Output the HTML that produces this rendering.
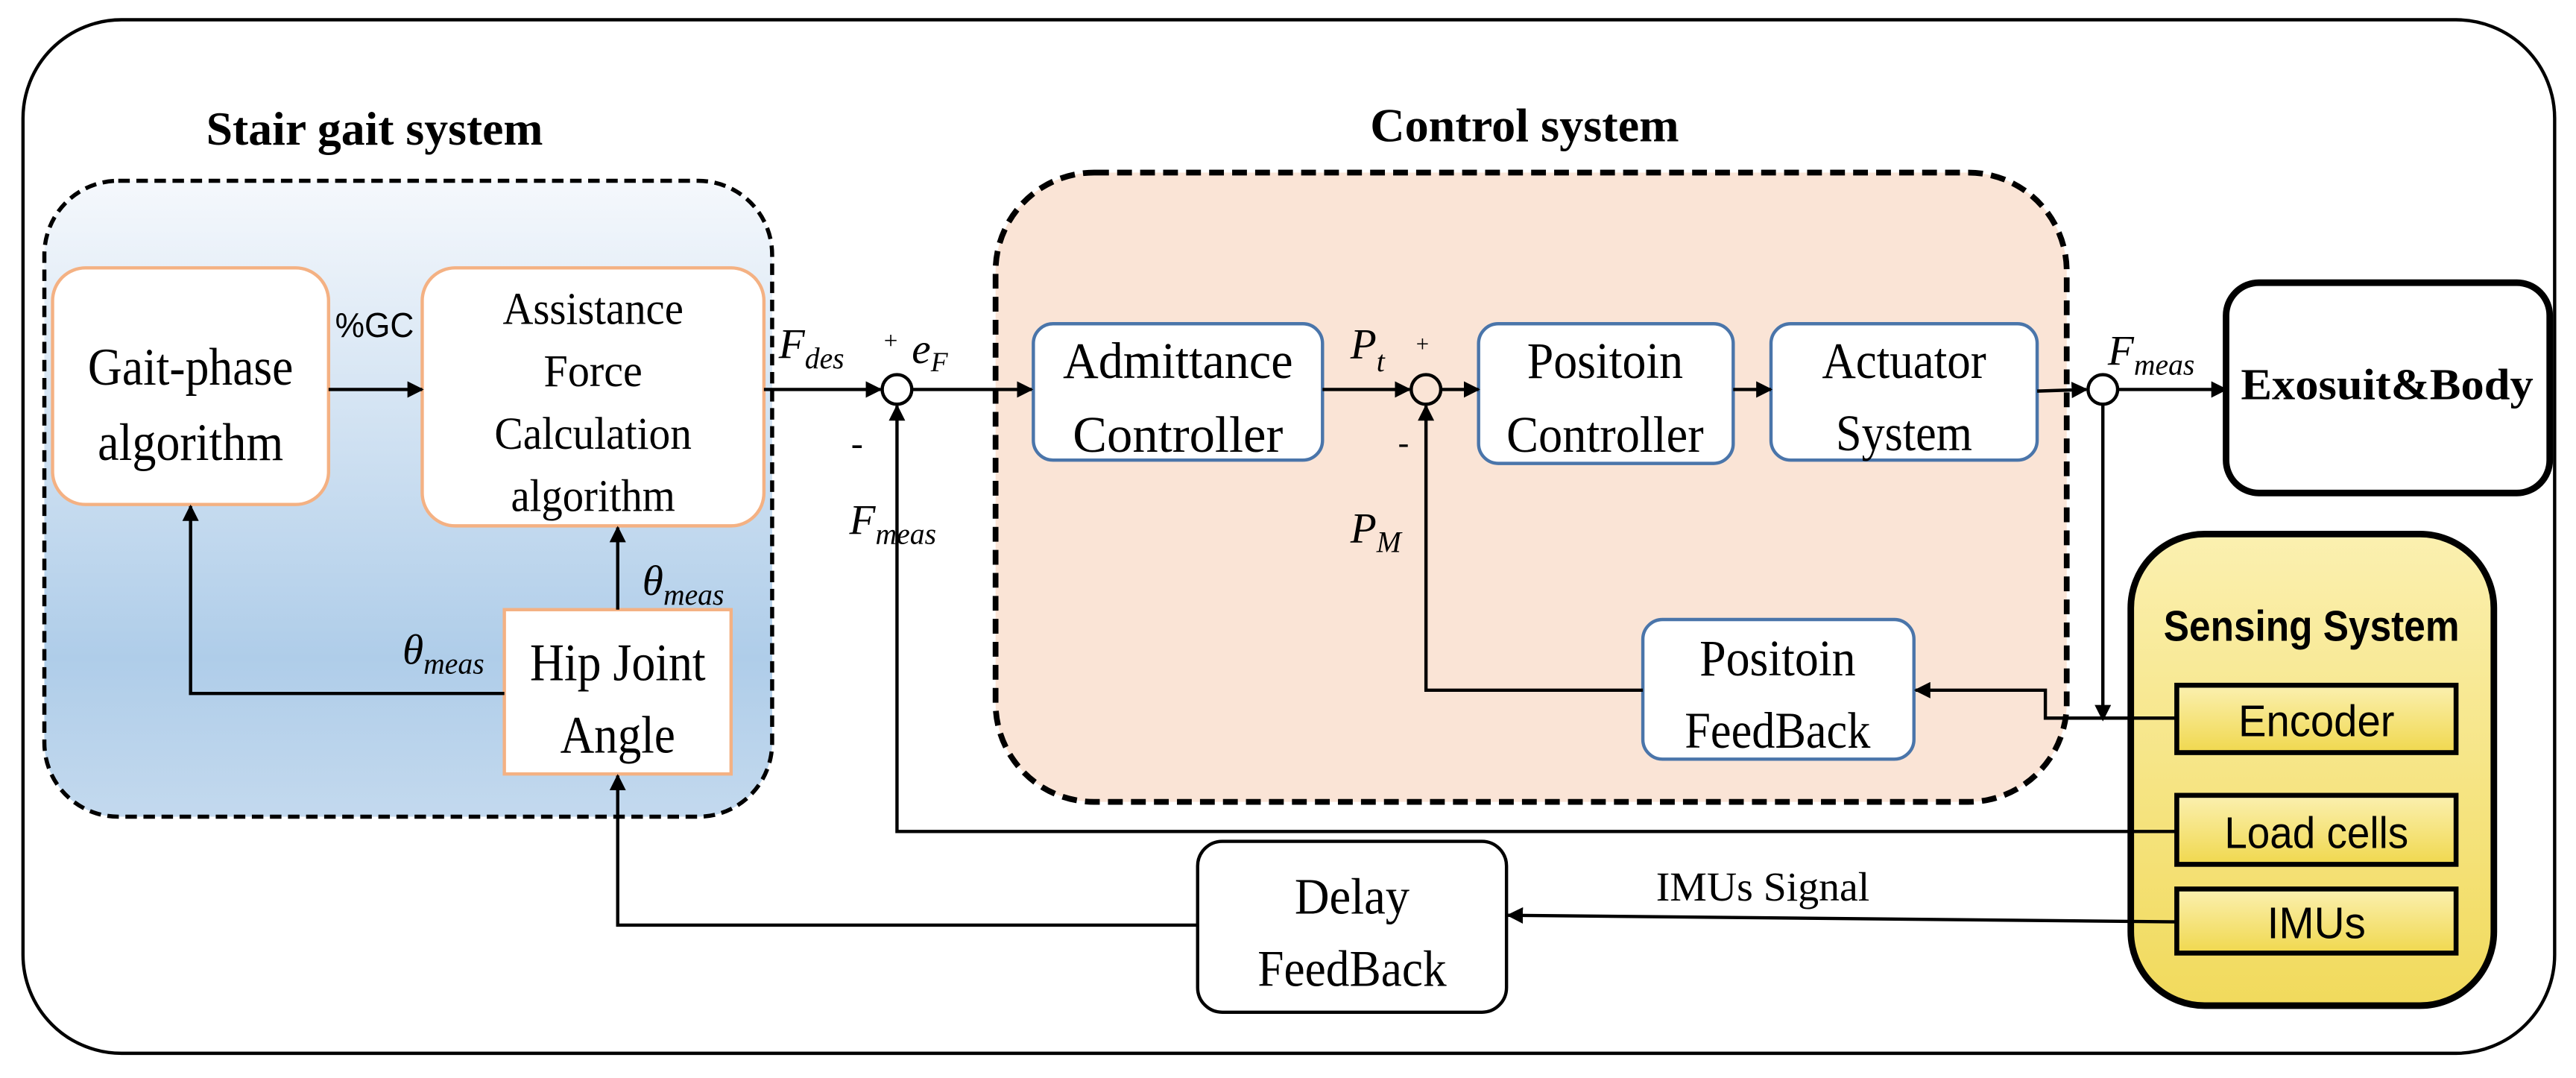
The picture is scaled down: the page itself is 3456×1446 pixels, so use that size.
<!DOCTYPE html>
<html><head><meta charset="utf-8"><style>
html,body{margin:0;padding:0;background:#fff}
svg{display:block}
.s{font-family:"Liberation Serif",serif}
</style></head><body>
<svg width="3456" height="1446" viewBox="0 0 1568 656" xmlns="http://www.w3.org/2000/svg">
<defs>
<marker id="a" viewBox="0 0 10 10" refX="9" refY="5" markerWidth="10" markerHeight="10" markerUnits="userSpaceOnUse" orient="auto"><path d="M0,0 L10,5 L0,10 z" fill="#000"/></marker>
<linearGradient id="gb" x1="0" y1="0" x2="0" y2="1"><stop offset="0" stop-color="#f5f8fc"/><stop offset="0.75" stop-color="#afcde9"/><stop offset="1" stop-color="#c3d9ee"/></linearGradient>
<linearGradient id="gy" x1="0" y1="0" x2="0" y2="1"><stop offset="0" stop-color="#fbf0b0"/><stop offset="1" stop-color="#f1da5c"/></linearGradient>
<linearGradient id="gy2" x1="0" y1="0" x2="0" y2="1"><stop offset="0" stop-color="#fbf0b0"/><stop offset="1" stop-color="#f0d84e"/></linearGradient>
</defs>
<g fill="none" stroke="#000">
<rect x="14" y="12" width="1541" height="629" rx="60" stroke-width="2"/>
<rect x="27" y="110" width="443" height="387" rx="45" fill="url(#gb)" stroke-width="2.5" stroke-dasharray="7,4"/>
<rect x="606" y="105" width="652" height="383" rx="60" fill="#fae4d6" stroke-width="3.5" stroke-dasharray="9,5"/>
<rect x="32" y="163" width="168" height="144" rx="20" fill="#fff" stroke="#f4b183" stroke-width="2"/>
<rect x="257" y="163" width="208" height="157" rx="20" fill="#fff" stroke="#f4b183" stroke-width="2"/>
<rect x="307" y="371" width="138" height="100" fill="#fff" stroke="#f4b183" stroke-width="2"/>
<rect x="629" y="197" width="176" height="83" rx="12" fill="#fff" stroke="#4a75aa" stroke-width="2"/>
<rect x="900" y="197" width="155" height="85" rx="12" fill="#fff" stroke="#4a75aa" stroke-width="2"/>
<rect x="1078" y="197" width="162" height="83" rx="12" fill="#fff" stroke="#4a75aa" stroke-width="2"/>
<rect x="1000" y="377" width="165" height="85" rx="12" fill="#fff" stroke="#4a75aa" stroke-width="2"/>
<rect x="1355" y="172" width="197" height="128" rx="20" fill="#fff" stroke-width="4"/>
<rect x="1297" y="325" width="221" height="287" rx="45" fill="url(#gy)" stroke-width="4"/>
<rect x="1325" y="417" width="170" height="41" fill="url(#gy2)" stroke-width="3"/>
<rect x="1325" y="484" width="170" height="42" fill="url(#gy2)" stroke-width="3"/>
<rect x="1325" y="541" width="170" height="39" fill="url(#gy2)" stroke-width="3"/>
<rect x="729" y="512" width="188" height="104" rx="15" fill="#fff" stroke-width="2"/>
<circle cx="546" cy="237" r="9" stroke-width="2"/>
<circle cx="868" cy="237" r="9" stroke-width="2"/>
<circle cx="1280" cy="237" r="9" stroke-width="2"/>
<g stroke-width="2" marker-end="url(#a)">
<line x1="200" y1="237" x2="257" y2="237"/>
<polyline points="307,422 116,422 116,308"/>
<line x1="376" y1="371" x2="376" y2="321"/>
<line x1="465" y1="237" x2="536" y2="237"/>
<line x1="555" y1="237" x2="628" y2="237"/>
<line x1="805" y1="237" x2="858" y2="237"/>
<line x1="877" y1="237" x2="900" y2="237"/>
<line x1="1055" y1="237" x2="1078" y2="237"/>
<line x1="1240" y1="238" x2="1270" y2="237"/>
<line x1="1289" y1="237" x2="1355" y2="237"/>
<line x1="1280" y1="246" x2="1280" y2="438"/>
<polyline points="1325,437 1245,437 1245,420 1166,420"/>
<polyline points="1000,420 868,420 868,247"/>
<polyline points="1325,506 546,506 546,247"/>
<line x1="1325" y1="561" x2="918" y2="557"/>
<polyline points="729,563 376,563 376,472"/>
</g>
</g>
<g class="s" text-anchor="middle" fill="#000" lengthAdjust="spacingAndGlyphs">
<text x="228" y="88" font-size="29" font-weight="bold" textLength="205" lengthAdjust="spacingAndGlyphs">Stair gait system</text>
<text x="928" y="86" font-size="29" font-weight="bold" textLength="188" lengthAdjust="spacingAndGlyphs">Control system</text>
<text x="116" y="234" font-size="32" textLength="125" lengthAdjust="spacingAndGlyphs">Gait-phase</text>
<text x="116" y="280" font-size="32" textLength="113" lengthAdjust="spacingAndGlyphs">algorithm</text>
<text x="361" y="197" font-size="28" textLength="110" lengthAdjust="spacingAndGlyphs">Assistance</text>
<text x="361" y="235" font-size="28" textLength="60" lengthAdjust="spacingAndGlyphs">Force</text>
<text x="361" y="273" font-size="28" textLength="120" lengthAdjust="spacingAndGlyphs">Calculation</text>
<text x="361" y="311" font-size="28" textLength="100" lengthAdjust="spacingAndGlyphs">algorithm</text>
<text x="376" y="414" font-size="32" textLength="107" lengthAdjust="spacingAndGlyphs">Hip Joint</text>
<text x="376" y="458" font-size="32" textLength="70" lengthAdjust="spacingAndGlyphs">Angle</text>
<text x="717" y="230" font-size="31" textLength="140" lengthAdjust="spacingAndGlyphs">Admittance</text>
<text x="717" y="275" font-size="31" textLength="128" lengthAdjust="spacingAndGlyphs">Controller</text>
<text x="977" y="230" font-size="31" textLength="95" lengthAdjust="spacingAndGlyphs">Positoin</text>
<text x="977" y="275" font-size="31" textLength="120" lengthAdjust="spacingAndGlyphs">Controller</text>
<text x="1159" y="230" font-size="31" textLength="100" lengthAdjust="spacingAndGlyphs">Actuator</text>
<text x="1159" y="274" font-size="31" textLength="83" lengthAdjust="spacingAndGlyphs">System</text>
<text x="1082" y="411" font-size="31" textLength="95" lengthAdjust="spacingAndGlyphs">Positoin</text>
<text x="1082" y="455" font-size="31" textLength="113" lengthAdjust="spacingAndGlyphs">FeedBack</text>
<text x="823" y="556" font-size="31" textLength="70" lengthAdjust="spacingAndGlyphs">Delay</text>
<text x="823" y="600" font-size="31" textLength="115" lengthAdjust="spacingAndGlyphs">FeedBack</text>
<text x="1453" y="243" font-size="27" font-weight="bold" textLength="178" lengthAdjust="spacingAndGlyphs">Exosuit&amp;Body</text>
<text x="1073" y="548" font-size="25" textLength="130" lengthAdjust="spacingAndGlyphs">IMUs Signal</text>
<g font-family="Liberation Sans, sans-serif">
<text x="228" y="205" font-size="21" textLength="48" lengthAdjust="spacingAndGlyphs">%GC</text>
<text x="1407" y="390" font-size="26" font-weight="bold" textLength="180" lengthAdjust="spacingAndGlyphs">Sensing System</text>
<text x="1410" y="448" font-size="27" textLength="95" lengthAdjust="spacingAndGlyphs">Encoder</text>
<text x="1410" y="516" font-size="27" textLength="112" lengthAdjust="spacingAndGlyphs">Load cells</text>
<text x="1410" y="571" font-size="27" textLength="60" lengthAdjust="spacingAndGlyphs">IMUs</text>
</g>
</g>
<g class="s" font-style="italic" fill="#000">
<text x="474" y="218" font-size="26">F<tspan font-size="18" dy="6">des</tspan></text>
<text x="537" y="212" font-size="15">+</text>
<text x="555" y="221" font-size="26">e<tspan font-size="17" dy="5">F</tspan></text>
<text x="518" y="277" font-size="22">-</text>
<text x="517" y="325" font-size="26">F<tspan font-size="18" dy="6">meas</tspan></text>
<text x="822" y="218" font-size="26">P<tspan font-size="18" dy="8">t</tspan></text>
<text x="861" y="214" font-size="14">+</text>
<text x="851" y="276" font-size="20">-</text>
<text x="822" y="330" font-size="26">P<tspan font-size="18" dy="6">M</tspan></text>
<text x="1283" y="222" font-size="26">F<tspan font-size="18" dy="6">meas</tspan></text>
<text x="391" y="362" font-size="26">θ<tspan font-size="18" dy="6">meas</tspan></text>
<text x="245" y="404" font-size="26">θ<tspan font-size="18" dy="6">meas</tspan></text>
</g>
</svg>
</body></html>
